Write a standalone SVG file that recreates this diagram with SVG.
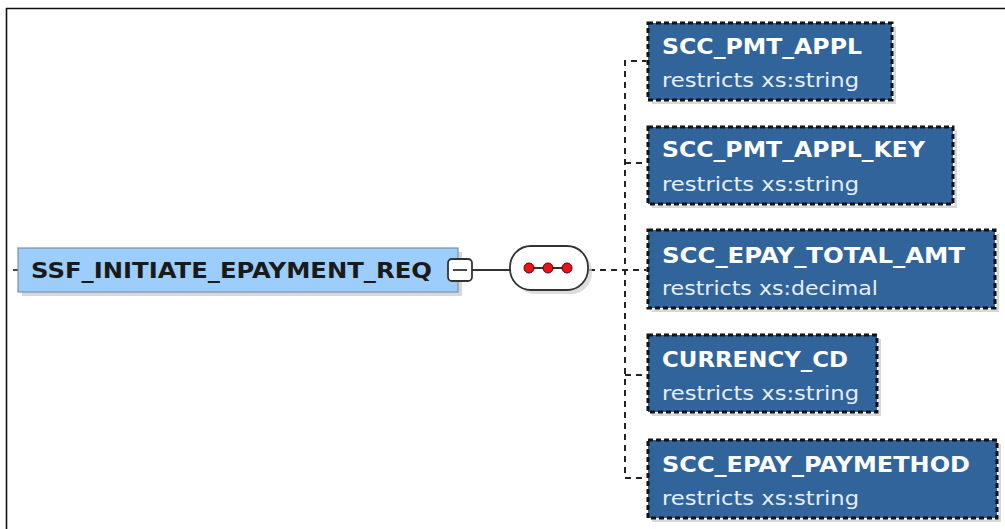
<svg xmlns="http://www.w3.org/2000/svg" width="1005" height="529" viewBox="0 0 1005 529">
<defs>
<style>
.frame{fill:none;stroke:#111;stroke-width:1.6}
.shadow{fill:#c8c8c8;opacity:0.7}
.child{fill:#31649a;stroke:#111;stroke-width:3;stroke-dasharray:5 3}
.childbg{fill:none;stroke:#fff;stroke-width:3}
.title{font-family:"DejaVu Sans","Liberation Sans",sans-serif;font-weight:bold;font-size:21px;fill:#fff}
.sub{font-family:"DejaVu Sans","Liberation Sans",sans-serif;font-size:20px;fill:#e6eef7}
.conn{fill:none;stroke:#222;stroke-width:2;stroke-dasharray:6 5}
.solid{fill:none;stroke:#333;stroke-width:1.8}
</style>
</defs>
<rect width="1005" height="529" fill="#fff"/>
<path class="frame" d="M6.5 529 V8.5 H1005"/>

<g id="connectors">
<line class="solid" x1="13" y1="270" x2="18" y2="270"/>
<line class="solid" x1="472" y1="270" x2="510" y2="270"/>
<line class="conn" x1="589" y1="270" x2="648" y2="270"/>
<path class="conn" d="M648 61 H625 V478 H648"/>
<line class="conn" x1="625" y1="163" x2="648" y2="163"/>
<line class="conn" x1="625" y1="375" x2="648" y2="375"/>
</g>

<g id="root">
<rect class="shadow" x="22" y="252" width="440" height="44"/>
<rect x="18" y="248" width="440" height="44" fill="#9ccdfb" stroke="#7a93ad" stroke-width="1.2"/>
<text x="31" y="278" font-family="DejaVu Sans, Liberation Sans, sans-serif" font-weight="bold" font-size="21" fill="#1a1a1a" textLength="401" lengthAdjust="spacingAndGlyphs">SSF_INITIATE_EPAYMENT_REQ</text>
</g>

<g id="collapse">
<rect x="448" y="259" width="24" height="22" rx="4" fill="#fff" stroke="#333" stroke-width="1.8"/>
<line x1="453" y1="270" x2="467" y2="270" stroke="#333" stroke-width="1.8"/>
</g>

<g id="sequence">
<rect x="514" y="250" width="78" height="44" rx="21" fill="#cfcfcf" opacity="0.7"/>
<rect x="510" y="246" width="78" height="44" rx="21" fill="#fff" stroke="#333" stroke-width="1.8"/>
<line x1="529" y1="268" x2="567" y2="268" stroke="#333" stroke-width="1.8"/>
<circle cx="529" cy="268" r="5" fill="#e8141a" stroke="#5a0000" stroke-width="1"/>
<circle cx="548" cy="268" r="5" fill="#e8141a" stroke="#5a0000" stroke-width="1"/>
<circle cx="567" cy="268" r="5" fill="#e8141a" stroke="#5a0000" stroke-width="1"/>
</g>

<g id="SCC_PMT_APPL">
<rect class="shadow" x="652" y="27" width="244" height="77"/>
<rect class="childbg" x="648" y="23" width="244" height="77"/>
<rect class="child" x="648" y="23" width="244" height="77"/>
<text class="title" x="662" y="54" textLength="200" lengthAdjust="spacingAndGlyphs">SCC_PMT_APPL</text>
<text class="sub" x="662" y="87" textLength="197" lengthAdjust="spacingAndGlyphs">restricts xs:string</text>
</g>

<g id="SCC_PMT_APPL_KEY">
<rect class="shadow" x="652" y="131" width="305" height="77"/>
<rect class="childbg" x="648" y="127" width="305" height="77"/>
<rect class="child" x="648" y="127" width="305" height="77"/>
<text class="title" x="662" y="157" textLength="263" lengthAdjust="spacingAndGlyphs">SCC_PMT_APPL_KEY</text>
<text class="sub" x="662" y="191" textLength="197" lengthAdjust="spacingAndGlyphs">restricts xs:string</text>
</g>

<g id="SCC_EPAY_TOTAL_AMT">
<rect class="shadow" x="652" y="234" width="347" height="78"/>
<rect class="childbg" x="648" y="230" width="347" height="78"/>
<rect class="child" x="648" y="230" width="347" height="78"/>
<text class="title" x="662" y="263" textLength="303" lengthAdjust="spacingAndGlyphs">SCC_EPAY_TOTAL_AMT</text>
<text class="sub" x="662" y="295" textLength="216" lengthAdjust="spacingAndGlyphs">restricts xs:decimal</text>
</g>

<g id="CURRENCY_CD">
<rect class="shadow" x="652" y="339" width="229" height="77"/>
<rect class="childbg" x="648" y="335" width="229" height="77"/>
<rect class="child" x="648" y="335" width="229" height="77"/>
<text class="title" x="662" y="367" textLength="186" lengthAdjust="spacingAndGlyphs">CURRENCY_CD</text>
<text class="sub" x="662" y="400" textLength="197" lengthAdjust="spacingAndGlyphs">restricts xs:string</text>
</g>

<g id="SCC_EPAY_PAYMETHOD">
<rect class="shadow" x="652" y="444" width="349" height="78"/>
<rect class="childbg" x="648" y="440" width="349" height="78"/>
<rect class="child" x="648" y="440" width="349" height="78"/>
<text class="title" x="662" y="472" textLength="308" lengthAdjust="spacingAndGlyphs">SCC_EPAY_PAYMETHOD</text>
<text class="sub" x="662" y="505" textLength="197" lengthAdjust="spacingAndGlyphs">restricts xs:string</text>
</g>
</svg>
